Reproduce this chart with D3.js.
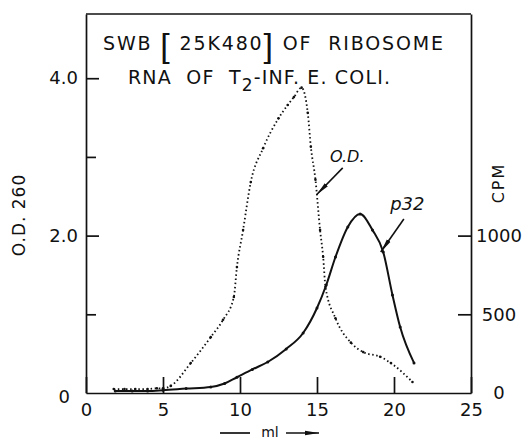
<!DOCTYPE html>
<html><head><meta charset="utf-8">
<script src="https://cdn.jsdelivr.net/npm/d3@7"></script>
<style>
body{margin:0;background:#fff}
svg{display:block}
text{font-family:"DejaVu Sans",sans-serif;fill:#111}
</style></head><body>
<svg id="chart" width="523" height="441"></svg>
<script>
// ---- data ----
const odMl  = [1.8, 2.5, 3.2, 4.0, 4.6, 5.0, 5.5, 6.8, 8.1, 8.9, 9.6, 9.8, 10.2, 10.7, 11.5, 12.5, 13.1, 13.5, 14.0, 14.4, 14.6, 14.9, 15.2, 15.4, 15.55, 16.2, 17.2, 18.0, 19.1, 19.8, 21.2];
const odVal = [0.05, 0.05, 0.05, 0.05, 0.06, 0.06, 0.09, 0.38, 0.71, 0.93, 1.22, 1.60, 2.07, 2.68, 3.11, 3.49, 3.66, 3.76, 3.88, 3.56, 3.13, 2.71, 2.07, 1.73, 1.35, 0.95, 0.64, 0.52, 0.46, 0.38, 0.14];
const p32Ml  = [1.9, 3.0, 4.0, 5.0, 6.5, 8.1, 9.0, 9.8, 10.8, 11.8, 13.0, 14.1, 15.0, 15.6, 16.2, 17.0, 17.8, 18.6, 19.3, 19.9, 20.4, 21.3];
const p32Cpm = [12, 12, 13, 18, 28, 38, 60, 100, 150, 197, 280, 381, 540, 686, 864, 1055, 1137, 1036, 896, 623, 419, 191];
const xTicks = [0, 5, 10, 15, 20, 25];
const odTicks = [0, 2, 4];
const odMinorTicks = [1, 3];
const cpmTicks = [0, 500, 1000];
const titleLine1 = ["SWB ", "[", " 25K480", "]", " OF  RIBOSOME"];
const titleLine2 = ["RNA  OF  T", "2", "-INF. E. COLI."];
const odNoteText = "O.D.";
const odNoteAt = [15.85, 2.94];
const odArrow = [[16.67, 2.86], [14.97, 2.52]];
const p32NoteText = "p32";
const p32NoteAt = [19.75, 1163];
const p32Arrow = [[20.64, 1105], [19.14, 896]];

// ---- scales ----
const svg = d3.select("#chart");
const x = d3.scaleLinear().domain([0, 25]).range([86, 471]);
const yOD = d3.scaleLinear().domain([0, 4.816]).range([393, 14]);
const yCPM = d3.scaleLinear().domain([0, 2408]).range([393, 14]);

const ink = "#111";
svg.append("defs").append("marker")
  .attr("id", "ah").attr("viewBox", "0 0 14 6").attr("refX", 14).attr("refY", 3)
  .attr("markerWidth", 14).attr("markerHeight", 6).attr("markerUnits", "userSpaceOnUse")
  .attr("orient", "auto")
  .append("path").attr("d", "M0,0.8 L14,3 L0,5.2 Z").attr("fill", ink);

function styleAxis(g) {
  g.selectAll("path.domain").attr("stroke", ink).attr("stroke-width", 1.7);
  g.selectAll(".tick line").attr("stroke", ink).attr("stroke-width", 1.7);
  g.selectAll("text").attr("font-family", "DejaVu Sans, sans-serif").attr("font-size", 18).attr("fill", ink);
}

// bottom axis
const gx = svg.append("g").attr("transform", `translate(0,${yOD(0)})`)
  .call(d3.axisBottom(x).tickValues(xTicks).tickSizeInner(-16).tickSizeOuter(0).tickPadding(10).tickFormat(d3.format("d")));
styleAxis(gx);

// left axis
const gl = svg.append("g").attr("transform", `translate(${x(0)},0)`)
  .call(d3.axisLeft(yOD).tickValues(odTicks).tickSizeInner(-13).tickSizeOuter(0).tickPadding(8)
    .tickFormat(d => d === 0 ? "0" : d.toFixed(1)));
styleAxis(gl);
gl.selectAll(".tick").filter(d => d === 0).select("text").attr("x", -16).attr("dy", "0.55em");
gl.selectAll(".tick").filter(d => d === 0).select("line").remove();
const glm = svg.append("g").attr("transform", `translate(${x(0)},0)`)
  .call(d3.axisLeft(yOD).tickValues(odMinorTicks).tickSizeInner(-10).tickSizeOuter(0).tickFormat(() => ""));
glm.select("path.domain").remove();
styleAxis(glm);

// right axis
const gr = svg.append("g").attr("transform", `translate(${x(25)},0)`)
  .call(d3.axisRight(yCPM).tickValues(cpmTicks).tickSizeInner(-13).tickSizeOuter(0).tickPadding(28)
    .tickFormat(d3.format("d")));
styleAxis(gr);
gr.selectAll("text").attr("text-anchor", "middle");
gr.selectAll(".tick").filter(d => d === 0).select("line").remove();

// top border
svg.append("line").attr("x1", x(0)).attr("x2", x(25)).attr("y1", yOD.range()[1]).attr("y2", yOD.range()[1])
  .attr("stroke", ink).attr("stroke-width", 1.7);

// axis titles
svg.append("text").attr("transform", "translate(25,215) rotate(-90)").attr("text-anchor", "middle")
  .attr("font-size", 17).attr("letter-spacing", 1).text("O.D. 260");
svg.append("text").attr("transform", "translate(504,183) rotate(-90)").attr("text-anchor", "middle")
  .attr("font-size", 16).attr("letter-spacing", 2).text("CPM");
svg.append("line").attr("x1", 220).attr("x2", 250).attr("y1", 433).attr("y2", 433).attr("stroke", ink).attr("stroke-width", 1.7);
svg.append("text").attr("x", 270).attr("y", 437).attr("text-anchor", "middle").attr("font-size", 14).text("ml");
svg.append("line").attr("x1", 286).attr("x2", 319).attr("y1", 433).attr("y2", 433).attr("stroke", ink).attr("stroke-width", 1.7)
  .attr("marker-end", "url(#ah)");

// title
const t1 = svg.append("text").attr("x", 103).attr("y", 50).attr("font-size", 19)
  .attr("textLength", 340).attr("lengthAdjust", "spacing").style("white-space", "pre");
titleLine1.forEach((s, i) => {
  const ts = t1.append("tspan").text(s);
  if (s === "[" || s === "]") ts.attr("font-size", 34).attr("font-family", "Liberation Sans, sans-serif").attr("dy", 7);
  else if (i > 0) ts.attr("dy", -7);
});
const t2 = svg.append("text").attr("x", 128).attr("y", 84).attr("font-size", 19)
  .attr("textLength", 262).attr("lengthAdjust", "spacing").style("white-space", "pre");
titleLine2.forEach((s, i) => {
  const ts = t2.append("tspan").text(s);
  if (i === 1) ts.attr("font-size", 17).attr("dy", 7);
  if (i === 2) ts.attr("dy", -7);
});

// curves
const odData = odMl.map((m, i) => ({ m, v: odVal[i] }));
const p32Data = p32Ml.map((m, i) => ({ m, v: p32Cpm[i] }));

svg.append("path").datum(odData)
  .attr("d", d3.line().x(d => x(d.m)).y(d => yOD(d.v)).curve(d3.curveMonotoneX))
  .attr("fill", "none").attr("stroke", ink).attr("stroke-width", 1.8)
  .attr("stroke-dasharray", "1.5,2.6");

svg.append("path").datum(p32Data)
  .attr("d", d3.line().x(d => x(d.m)).y(d => yCPM(d.v)).curve(d3.curveMonotoneX))
  .attr("fill", "none").attr("stroke", ink).attr("stroke-width", 2);

svg.append("g").selectAll("circle").data(odData).join("circle")
  .attr("cx", d => x(d.m)).attr("cy", d => yOD(d.v)).attr("r", 1.3).attr("fill", ink);
svg.append("g").selectAll("circle").data(p32Data).join("circle")
  .attr("cx", d => x(d.m)).attr("cy", d => yCPM(d.v)).attr("r", 1.5).attr("fill", ink);

// annotations
svg.append("text").attr("x", x(odNoteAt[0])).attr("y", yOD(odNoteAt[1]))
  .attr("font-size", 16).attr("font-style", "italic").text(odNoteText);
svg.append("line")
  .attr("x1", x(odArrow[0][0])).attr("y1", yOD(odArrow[0][1]))
  .attr("x2", x(odArrow[1][0])).attr("y2", yOD(odArrow[1][1]))
  .attr("stroke", ink).attr("stroke-width", 1.6).attr("marker-end", "url(#ah)");
svg.append("text").attr("x", x(p32NoteAt[0])).attr("y", yCPM(p32NoteAt[1]))
  .attr("font-size", 18).attr("font-style", "italic").text(p32NoteText);
svg.append("line")
  .attr("x1", x(p32Arrow[0][0])).attr("y1", yCPM(p32Arrow[0][1]))
  .attr("x2", x(p32Arrow[1][0])).attr("y2", yCPM(p32Arrow[1][1]))
  .attr("stroke", ink).attr("stroke-width", 1.6).attr("marker-end", "url(#ah)");
</script>
</body></html>
